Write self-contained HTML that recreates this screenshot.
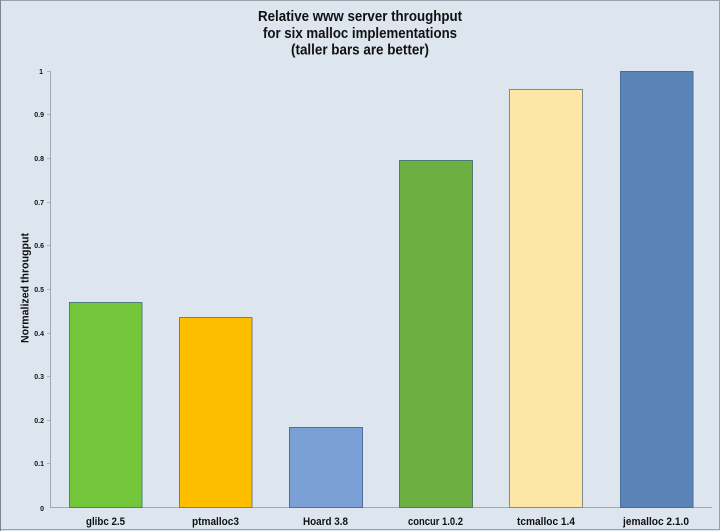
<!DOCTYPE html>
<html>
<head>
<meta charset="utf-8">
<style>
  html,body{margin:0;padding:0;background:#dde6ef;}
  svg{display:block;}
  text{font-family:"Liberation Sans","DejaVu Sans",sans-serif;font-weight:bold;fill:#111;}
</style>
</head>
<body>
<svg width="720" height="531" viewBox="0 0 720 531" xmlns="http://www.w3.org/2000/svg">
  <rect x="0" y="0" width="720" height="531" fill="#dde6ef"/>
  <rect x="0.5" y="0.5" width="719" height="529" fill="none" stroke="#9aa2ab" stroke-width="1"/>
  <line x1="0.5" y1="0" x2="0.5" y2="531" stroke="#7d858e" stroke-width="1"/>

  <!-- Title -->
  <text x="360" y="21" font-size="15" text-anchor="middle" textLength="204" lengthAdjust="spacingAndGlyphs">Relative www server throughput</text>
  <text x="360" y="38" font-size="15" text-anchor="middle" textLength="194" lengthAdjust="spacingAndGlyphs">for six malloc implementations</text>
  <text x="360" y="54.5" font-size="15" text-anchor="middle" textLength="138" lengthAdjust="spacingAndGlyphs">(taller bars are better)</text>

  <!-- Y axis label -->
  <text transform="translate(28.5,288) rotate(-90)" font-size="11" text-anchor="middle" textLength="110" lengthAdjust="spacingAndGlyphs">Normalized througput</text>

  <!-- Axes -->
  <line x1="50.5" y1="71" x2="50.5" y2="507.5" stroke="#a3a9b0" stroke-width="1"/>
  <line x1="50" y1="507.5" x2="712" y2="507.5" stroke="#a3a9b0" stroke-width="1"/>

  <!-- Y ticks -->
  <g stroke="#b0b6bc" stroke-width="1">
    <line x1="47" y1="71.5" x2="50" y2="71.5"/>
    <line x1="47" y1="114.5" x2="50" y2="114.5"/>
    <line x1="47" y1="158.5" x2="50" y2="158.5"/>
    <line x1="47" y1="202.5" x2="50" y2="202.5"/>
    <line x1="47" y1="245.5" x2="50" y2="245.5"/>
    <line x1="47" y1="289.5" x2="50" y2="289.5"/>
    <line x1="47" y1="333.5" x2="50" y2="333.5"/>
    <line x1="47" y1="376.5" x2="50" y2="376.5"/>
    <line x1="47" y1="420.5" x2="50" y2="420.5"/>
    <line x1="47" y1="463.5" x2="50" y2="463.5"/>
  </g>
  <g font-size="7" text-anchor="end" fill="#222">
    <text x="43" y="74">1</text>
    <text x="44" y="117">0.9</text>
    <text x="44" y="161">0.8</text>
    <text x="44" y="205">0.7</text>
    <text x="44" y="248">0.6</text>
    <text x="44" y="292">0.5</text>
    <text x="44" y="336">0.4</text>
    <text x="44" y="379">0.3</text>
    <text x="44" y="423">0.2</text>
    <text x="44" y="466">0.1</text>
    <text x="44" y="511">0</text>
  </g>

  <!-- Bars -->
  <rect x="69.5" y="302.5" width="72.5" height="205" fill="#74c63a" stroke="#4f7f78" stroke-width="1"/>
  <rect x="179.5" y="317.5" width="72.5" height="190" fill="#fdbe00" stroke="#6f7f86" stroke-width="1"/>
  <rect x="289.5" y="427.5" width="73" height="80" fill="#7ba0d6" stroke="#4d6f9c" stroke-width="1"/>
  <rect x="399.5" y="160.5" width="73" height="347" fill="#6db041" stroke="#4d7a72" stroke-width="1"/>
  <rect x="509.5" y="89.5" width="73" height="418" fill="#fee6a7" stroke="#7d8b94" stroke-width="1"/>
  <rect x="620.5" y="71.5" width="72.5" height="436" fill="#5a84b6" stroke="#4a6d99" stroke-width="1"/>

  <!-- X labels -->
  <g font-size="11" text-anchor="middle">
    <text x="105.5" y="525" textLength="39" lengthAdjust="spacingAndGlyphs">glibc 2.5</text>
    <text x="215.5" y="525" textLength="47" lengthAdjust="spacingAndGlyphs">ptmalloc3</text>
    <text x="325.5" y="525" textLength="45" lengthAdjust="spacingAndGlyphs">Hoard 3.8</text>
    <text x="435.5" y="525" textLength="55" lengthAdjust="spacingAndGlyphs">concur 1.0.2</text>
    <text x="546" y="525" textLength="58" lengthAdjust="spacingAndGlyphs">tcmalloc 1.4</text>
    <text x="656" y="525" textLength="66" lengthAdjust="spacingAndGlyphs">jemalloc 2.1.0</text>
  </g>
</svg>
</body>
</html>
